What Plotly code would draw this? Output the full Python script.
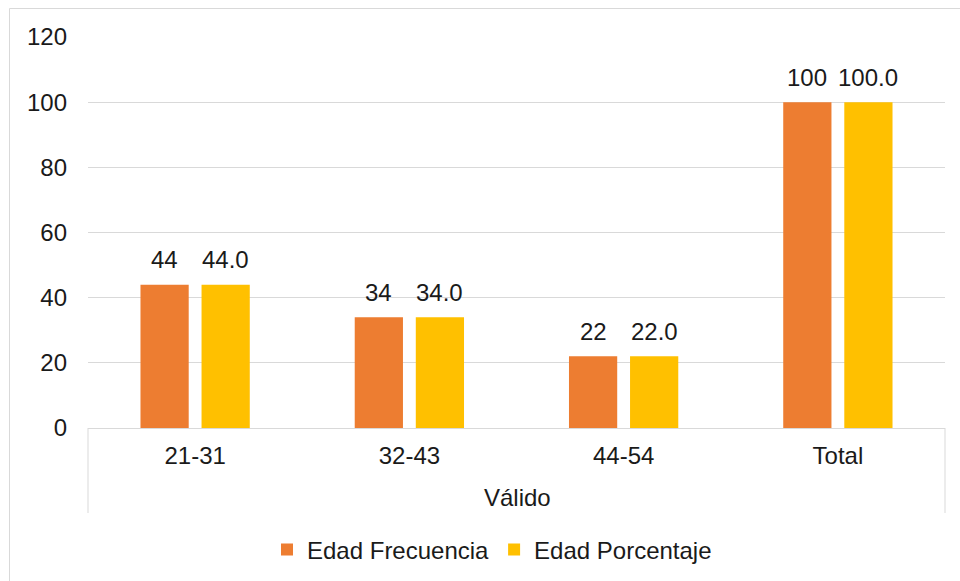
import plotly.graph_objects as go

categories = ["21-31", "32-43", "44-54", "Total"]
group_label = "Válido"
frecuencia = [44, 34, 22, 100]
porcentaje = [44.0, 34.0, 22.0, 100.0]
frec_labels = ["44", "34", "22", "100"]
porc_labels = ["44.0", "34.0", "22.0", "100.0"]
y_ticks = [0, 20, 40, 60, 80, 100, 120]

ORANGE = "#ED7D31"
YELLOW = "#FFC000"
GRID = "#D9D9D9"
TXT = "#1a1a1a"
FONT = "Liberation Sans, Arial, sans-serif"
FS = 24

W, H = 960, 581
L, R, T, B = 88, 15, 37, 153
pw, ph = W - L - R, H - T - B

fig = go.Figure()
fig.add_trace(go.Bar(name="Edad Frecuencia", x=categories, y=frecuencia,
                     marker=dict(color=ORANGE, line=dict(width=0))))
fig.add_trace(go.Bar(name="Edad Porcentaje", x=categories, y=porcentaje,
                     marker=dict(color=YELLOW, line=dict(width=0))))

annotations = []
for c, v, t in zip(categories, frecuencia, frec_labels):
    annotations.append(dict(x=c, y=v, text=t, showarrow=False, xshift=-30.5,
                            yshift=25, yanchor="middle", xanchor="center",
                            font=dict(size=FS, color=TXT, family=FONT)))
for c, v, t in zip(categories, porcentaje, porc_labels):
    annotations.append(dict(x=c, y=v, text=t, showarrow=False, xshift=30.5,
                            yshift=25, yanchor="middle", xanchor="center",
                            font=dict(size=FS, color=TXT, family=FONT)))

def px2paper_x(px):
    return (px - L) / pw

def px2paper_y(py):
    return (H - B - py) / ph

annotations.append(dict(x=px2paper_x(517), y=px2paper_y(497), xref="paper", yref="paper",
                        text=group_label, showarrow=False, xanchor="center", yanchor="middle",
                        font=dict(size=FS, color=TXT, family=FONT)))

shapes = [
    # chart border
    dict(type="rect", xref="paper", yref="paper",
         x0=px2paper_x(9.5), x1=px2paper_x(975), y0=px2paper_y(600), y1=px2paper_y(8.5),
         line=dict(color=GRID, width=1), fillcolor="rgba(0,0,0,0)", layer="below"),
    # multi-level axis separators
    dict(type="line", xref="paper", yref="paper",
         x0=0, x1=0, y0=0, y1=px2paper_y(513), line=dict(color=GRID, width=1)),
    dict(type="line", xref="paper", yref="paper",
         x0=1, x1=1, y0=0, y1=px2paper_y(513), line=dict(color=GRID, width=1)),
]

fig.update_layout(
    width=W, height=H,
    margin=dict(l=L, r=R, t=T, b=B, autoexpand=False),
    paper_bgcolor="white", plot_bgcolor="white",
    barmode="group", bargap=0.43, bargroupgap=0.21,
    font=dict(family=FONT, size=FS, color=TXT),
    showlegend=True,
    legend=dict(orientation="h", x=px2paper_x(492), xanchor="center",
                y=px2paper_y(550), yanchor="middle",
                font=dict(size=FS, color=TXT, family=FONT),
                bgcolor="rgba(0,0,0,0)", traceorder="normal"),
    annotations=annotations,
    shapes=shapes,
)
fig.update_xaxes(type="category", showline=True, linecolor=GRID, linewidth=1,
                 showgrid=False, ticks="", ticklabelstandoff=6,
                 tickfont=dict(size=FS, color=TXT, family=FONT), fixedrange=True)
fig.update_yaxes(range=[0, 120], tickvals=y_ticks, showgrid=True, gridcolor=GRID,
                 gridwidth=1, zeroline=False, showline=False, ticks="",
                 ticklabelstandoff=20,
                 tickfont=dict(size=FS, color=TXT, family=FONT), fixedrange=True)

fig.write_html("out.html")
